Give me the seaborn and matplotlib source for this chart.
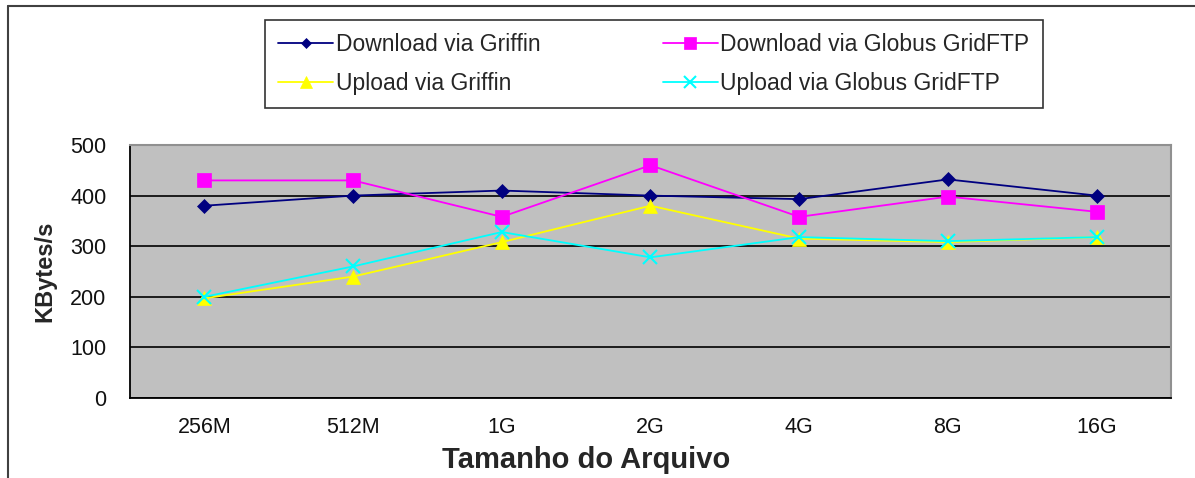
import numpy as np
import pandas as pd
import matplotlib
matplotlib.use("Agg")
import matplotlib.pyplot as plt
import seaborn as sns
from matplotlib.lines import Line2D

sizes = ["256M", "512M", "1G", "2G", "4G", "8G", "16G"]
download_griffin = [380, 400, 410, 400, 393, 432, 400]
download_globus = [430, 430, 358, 460, 358, 398, 368]
upload_griffin = [197, 240, 308, 380, 315, 308, 318]
upload_globus = [200, 260, 328, 278, 318, 310, 318]

series_names = ["Download via Griffin", "Download via Globus GridFTP",
                "Upload via Griffin", "Upload via Globus GridFTP"]
series_values = [download_griffin, download_globus, upload_griffin, upload_globus]
colors = ["#000080", "#FF00FF", "#FFFF00", "#00FFFF"]
markers = ["D", "s", "^", "x"]
msizes = [7, 10, 10, 10]

rows = []
for name, vals in zip(series_names, series_values):
    for i, v in enumerate(vals):
        rows.append({"serie": name, "pos": i, "size": sizes[i], "kbps": v})
df = pd.DataFrame(rows)

sns.set_style("white")
plt.rcParams["font.family"] = ["Liberation Sans", "DejaVu Sans"]

fig = plt.figure(figsize=(11.95, 4.78), dpi=100)
ax = fig.add_axes([130 / 1195, 1 - 398 / 478, (1171 - 130) / 1195, (398 - 145) / 478])
ax.set_facecolor("#C0C0C0")

for name, col, mk, ms in zip(series_names, colors, markers, msizes):
    sub = df[df["serie"] == name]
    sns.lineplot(data=sub, x="pos", y="kbps", ax=ax, color=col, marker=mk,
                 markersize=ms, markeredgecolor=col, markeredgewidth=1.5 if mk == "x" else 0.5,
                 linewidth=1.3, legend=False)

ax.set_xlim(-0.5, len(sizes) - 0.5)
ax.set_ylim(0, 500)
ax.set_yticks(np.arange(0, 501, 100))
ax.set_xticks(range(len(sizes)))
ax.set_xticklabels(sizes)
ax.set_xticks(np.arange(-0.5, len(sizes), 1.0), minor=True)
ax.tick_params(axis="x", which="major", length=0, labelsize=15.5, pad=14, colors="#111111")
ax.tick_params(axis="x", which="minor", length=6, width=1.2, direction="out", color="black")
ax.tick_params(axis="y", length=9, width=1.2, direction="out", labelsize=15.5, pad=8,
               color="black", labelcolor="#111111")
ax.yaxis.grid(True, color="black", linewidth=1.2)
ax.set_axisbelow(True)
for s in ["top", "right"]:
    ax.spines[s].set_color("#909090")
    ax.spines[s].set_linewidth(1.5)
for s in ["left", "bottom"]:
    ax.spines[s].set_color("black")
    ax.spines[s].set_linewidth(1.3)

ax.set_xlabel("Tamanho do Arquivo", fontsize=21, fontweight="bold", labelpad=0)
ax.xaxis.set_label_coords((586 - 130) / (1171 - 130), -0.19)
ax.set_ylabel("KBytes/s", fontsize=17, fontweight="bold")
ax.yaxis.set_label_coords(-(130 - 56) / (1171 - 130), 0.5)

# legend filled column by column, so order the handles to read row by row
order = [0, 2, 1, 3]
handles = [Line2D([0], [0], color=colors[i], marker=markers[i], markersize=msizes[i] * 0.8,
                  markeredgecolor=colors[i], markeredgewidth=1.5 if markers[i] == "x" else 0.5,
                  linewidth=1.3) for i in order]
labels = [series_names[i] for i in order]
leg = fig.legend(handles, labels, loc="upper left", borderaxespad=0,
                 bbox_to_anchor=(265 / 1195, 1 - 20 / 478), ncol=2, fontsize=16.5,
                 frameon=True, fancybox=False, edgecolor="black", handlelength=2.4,
                 handletextpad=0.1, columnspacing=5.35, labelspacing=0.68, borderpad=0.58)
leg.get_frame().set_linewidth(1.2)

fig.add_artist(Line2D([8 / 1195, 8 / 1195], [0, 1 - 6 / 478], color="#404040", linewidth=1.5))
fig.add_artist(Line2D([8 / 1195, 1], [1 - 6 / 478, 1 - 6 / 478], color="#404040", linewidth=1.5))

fig.savefig("out.png", dpi=100)
